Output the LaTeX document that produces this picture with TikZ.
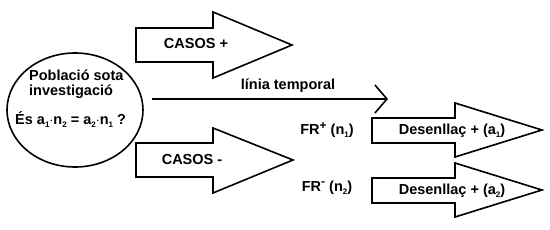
\documentclass[tikz,border=0pt]{standalone}
\usepackage{fontspec}
\setmainfont{Liberation Sans}
\usepackage{tikz}
\usetikzlibrary{arrows.meta,shapes.geometric}
\newcommand{\lowix}[1]{\raisebox{-0.4ex}{\fontsize{8}{8}\selectfont #1}}
\newcommand{\upix}[1]{\raisebox{0.75ex}{\fontsize{12}{12}\selectfont #1}}
\tikzset{
  fatarrow/.style={draw=black, line width=1.6pt, fill=white, line join=miter},
  lbl/.style={font=\fontsize{14.5}{16}\selectfont\bfseries, inner sep=0pt},
  timeline/.style={line width=1.6pt, -{Straight Barb[length=12pt, width=28pt, line width=1.6pt]}},
}
\begin{document}
\begin{tikzpicture}[x=1pt, y=-1pt]
  \useasboundingbox (0,0) rectangle (550,230);
  % population
  \node[ellipse, draw, line width=1.6pt, minimum width=136pt, minimum height=114pt] (pop) at (75,110) {};
  \node[lbl, anchor=west] (pobl) at (29,75) {Població sota};
  \node[lbl, anchor=west] (inv)  at (29,92) {investigació};
  \node[lbl, anchor=west] (ques) at (15,120) {És a\lowix{1}$\cdot$n\lowix{2} = a\lowix{2}$\cdot$n\lowix{1} ?};
  % cases arrows
  \draw[fatarrow] (136,28) -- (213,28) -- (213,12) -- (292,45) -- (213,78) -- (213,62) -- (136,62) -- cycle;
  \node[lbl] (cpos) at (196,44) {CASOS +};
  \draw[fatarrow] (136,143) -- (213,143) -- (213,128) -- (293,160) -- (213,193) -- (213,177) -- (136,177) -- cycle;
  \node[lbl] (cneg) at (192,160) {CASOS -};
  % time line
  \coordinate (tstart) at (152,99);
  \coordinate (tend) at (388,99);
  \draw[timeline] (tstart) -- (tend);
  \node[lbl] (tlbl) at (288,86) {línia temporal};
  % outcome arrows
  \draw[fatarrow] (372,118) -- (455,118) -- (455,103) -- (542,130) -- (455,157) -- (455,143) -- (372,143) -- cycle;
  \node[lbl] (out1) at (452,131) {Desenllaç + (a\lowix{1})};
  \draw[fatarrow] (372,178) -- (455,178) -- (455,163) -- (542,190) -- (455,217) -- (455,203) -- (372,203) -- cycle;
  \node[lbl] (out2) at (452,191) {Desenllaç + (a\lowix{2})};
  % risk factor
  \node[lbl] (frpos) at (327,130) {FR\upix{+}\ (n\lowix{1})};
  \node[lbl] (frneg) at (327,188) {FR\upix{-}\ (n\lowix{2})};
\end{tikzpicture}
\end{document}
